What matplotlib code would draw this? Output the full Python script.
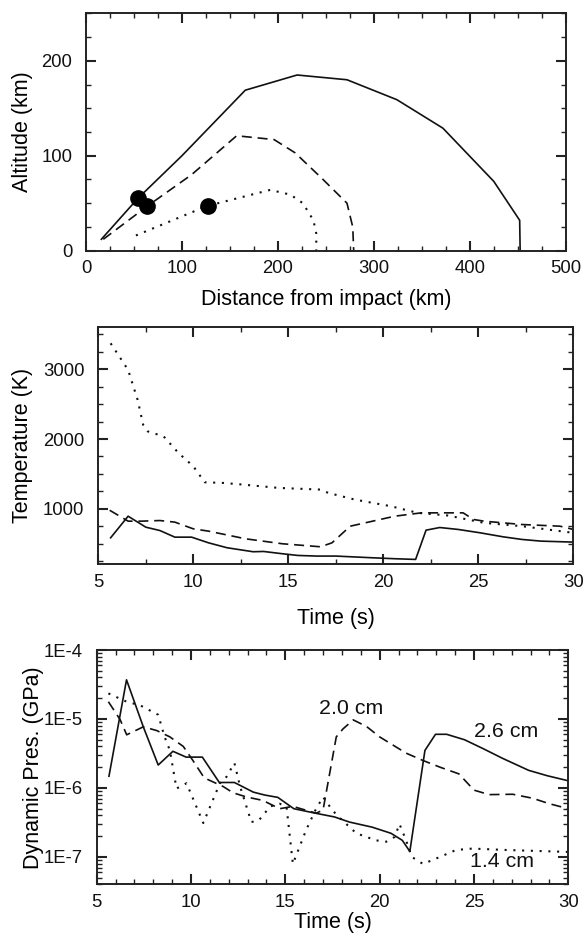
import matplotlib
matplotlib.use("Agg")
import matplotlib.pyplot as plt
from matplotlib.ticker import MultipleLocator, FixedLocator, FixedFormatter, LogLocator, NullFormatter

plt.rcParams['font.family'] = ['Liberation Sans', 'DejaVu Sans']

# ---- Panel 1: trajectories ----
traj_solid_x = [16, 54, 100, 166, 220, 272, 324, 372, 425, 452, 452.5]
traj_solid_y = [12, 55, 100, 169, 185, 180, 159, 129, 73, 32, 0]
traj_dash_x = [18, 64, 110, 157, 196, 218, 247, 272, 278, 279]
traj_dash_y = [12, 47, 80, 121, 117, 103, 75, 50, 25, 0]
traj_dot_x = [52, 126, 192, 213, 226, 237, 240, 240]
traj_dot_y = [16, 47, 64, 59, 50, 32, 18, 0]
marker_x = [54, 64, 127]
marker_y = [55, 47, 47]

# ---- Panel 2: temperature ----
t_solid = [5.65, 6.57, 7.5, 8.24, 9.03, 9.91, 10.8, 11.78, 13.15, 13.7, 14.7, 15.5, 16.5, 17.5, 19.4, 20.6, 21.7, 22.25, 22.97, 23.95, 25.1, 26.3, 27.3, 28.3, 30]
T_solid = [586, 895, 738, 690, 595, 595, 514, 443, 386, 390, 357, 333, 324, 324, 300, 286, 276, 695, 733, 705, 657, 600, 562, 538, 524]
t_dash = [5.6, 6.57, 7.26, 8.24, 9.03, 10.0, 10.8, 12.76, 14.7, 16.7, 17.3, 18.26, 19.44, 20.6, 22.0, 22.8, 24.2, 24.75, 25.3, 27.3, 29.3, 30]
T_dash = [980, 824, 824, 833, 810, 714, 681, 571, 500, 457, 514, 752, 824, 895, 943, 943, 943, 848, 824, 776, 752, 705]
t_dot = [5.65, 6.57, 7.07, 7.36, 7.6, 8.44, 9.22, 10.0, 10.6, 11.6, 12.6, 14.5, 16.7, 17.1, 18.5, 20.4, 21.8, 23.4, 25.3, 27.3, 30]
T_dot = [3371, 2990, 2562, 2205, 2110, 2038, 1800, 1610, 1381, 1371, 1348, 1300, 1276, 1229, 1133, 1038, 943, 905, 800, 752, 657]

# ---- Panel 3: dynamic pressure ----
p_solid_t = [5.65, 6.58, 7.47, 8.26, 9.04, 9.74, 10.6, 11.5, 12.3, 13.3, 13.9, 14.6, 15.45, 16.6, 17.6, 18.4, 19.6, 20.6, 21.2, 21.6, 22.4, 22.96, 23.55, 24.5, 25.5, 26.5, 27.9, 28.9, 30]
p_solid = [1.48e-6, 3.7e-5, 7.7e-6, 2.15e-6, 3.4e-6, 2.8e-6, 2.8e-6, 1.2e-6, 1.2e-6, 8.7e-7, 7.9e-7, 7.3e-7, 5.0e-7, 4.3e-7, 3.8e-7, 3.2e-7, 2.7e-7, 2.2e-7, 1.74e-7, 1.2e-7, 3.5e-6, 6.0e-6, 6.0e-6, 5.0e-6, 3.7e-6, 2.7e-6, 1.8e-6, 1.5e-6, 1.27e-6]
p_dash_t = [5.62, 6.24, 6.59, 7.47, 8.18, 8.88, 9.59, 10.1, 10.7, 11.7, 12.23, 12.94, 13.8, 14.7, 15.4, 16.64, 17.0, 17.7, 18.06, 18.6, 19.3, 20.0, 21.4, 22.3, 23.2, 24.2, 25.0, 25.8, 27.05, 28.1, 29.0, 30]
p_dash = [1.78e-5, 9.8e-6, 5.9e-6, 7.7e-6, 6.8e-6, 5.5e-6, 4.0e-6, 2.5e-6, 1.4e-6, 1.05e-6, 8.5e-7, 7.4e-7, 6.6e-7, 5.0e-7, 5.4e-7, 4.3e-7, 4.8e-7, 5.5e-6, 7.2e-6, 9.7e-6, 7.8e-6, 5.5e-6, 3.2e-6, 2.5e-6, 2.0e-6, 1.6e-6, 9.3e-7, 8.0e-7, 8.1e-7, 7.1e-7, 5.9e-7, 5.0e-7]
p_dot_t = [5.62, 6.59, 7.3, 8.26, 8.6, 8.88, 9.23, 9.76, 10.65, 11.53, 11.88, 12.3, 12.6, 13.2, 13.6, 14.2, 14.7, 15.06, 15.4, 16.1, 16.6, 17.0, 17.35, 17.7, 18.76, 19.8, 20.35, 20.8, 21.05, 21.4, 21.7, 22.3, 23.2, 24.05, 24.9, 26.7, 30]
p_dot = [2.35e-5, 1.78e-5, 1.58e-5, 1.15e-5, 5.5e-6, 3.5e-6, 9.8e-7, 1.17e-6, 3.1e-7, 1.17e-6, 1.45e-6, 2.3e-6, 1.05e-6, 3.2e-7, 3.4e-7, 5.4e-7, 5.9e-7, 5.4e-7, 7.9e-8, 2.45e-7, 4.8e-7, 7.4e-7, 5.4e-7, 4.1e-7, 2.2e-7, 1.74e-7, 1.66e-7, 1.95e-7, 3.0e-7, 1.74e-7, 1.0e-7, 7.9e-8, 1.0e-7, 1.26e-7, 1.32e-7, 1.26e-7, 1.18e-7]

size_labels = ["2.0 cm", "2.6 cm", "1.4 cm"]
size_label_t = [18.5, 26.7, 26.5]
size_label_p = [1.4e-5, 6.6e-6, 8.5e-8]

LW = 1.2
DASH = (0, (6, 3.5))
DOT = (0, (1, 3.2))
TFS = 13.3   # tick labels
LFS = 15.5   # axis labels
AFS = 15.4   # annotations

fig = plt.figure(figsize=(5.84, 9.36), dpi=100)
ax1 = fig.add_axes([0.1473, 0.7322, 0.8214, 0.2536])
ax2 = fig.add_axes([0.1683, 0.3974, 0.8134, 0.2529])
ax3 = fig.add_axes([0.1656, 0.0552, 0.8075, 0.2503])

def style(ax):
    for s in ax.spines.values():
        s.set_linewidth(1.4)
        s.set_color('#222222')
    ax.tick_params(which='both', direction='in', top=True, right=True, colors='#222222', labelcolor='#111111', labelsize=TFS)
    ax.tick_params(which='major', length=7, width=1.5)
    ax.tick_params(which='minor', length=3.8, width=1.0)
    ax.tick_params(axis='x', which='both', pad=7)
    ax.tick_params(axis='y', which='both', pad=10)

# Panel 1
ax1.plot(traj_solid_x, traj_solid_y, color='#111111', lw=LW, ls='-')
ax1.plot(traj_dash_x, traj_dash_y, color='#111111', lw=LW, ls=DASH)
ax1.plot(traj_dot_x, traj_dot_y, color='#111111', lw=1.5, ls=DOT)
ax1.plot(marker_x, marker_y, 'o', color='black', ms=11, zorder=5)
ax1.set_xlim(0, 500)
ax1.set_ylim(0, 250)
ax1.xaxis.set_major_locator(MultipleLocator(100))
ax1.xaxis.set_minor_locator(MultipleLocator(25))
ax1.yaxis.set_major_locator(MultipleLocator(100))
ax1.yaxis.set_minor_locator(MultipleLocator(25))
ax1.set_xlabel('Distance from impact (km)', fontsize=LFS, va='center')
ax1.set_ylabel('Altitude (km)', fontsize=LFS, va='center')
ax1.xaxis.set_label_coords(0.5, -0.2077)
ax1.yaxis.set_label_coords(-0.1334, 0.5)
style(ax1)

# Panel 2
ax2.plot(t_solid, T_solid, color='#111111', lw=LW, ls='-')
ax2.plot(t_dash, T_dash, color='#111111', lw=LW, ls=DASH)
ax2.plot(t_dot, T_dot, color='#111111', lw=1.5, ls=DOT)
ax2.set_xlim(5, 30)
ax2.set_ylim(210, 3600)
ax2.xaxis.set_major_locator(MultipleLocator(5))
ax2.xaxis.set_minor_locator(MultipleLocator(2.5))
ax2.yaxis.set_major_locator(MultipleLocator(1000))
ax2.yaxis.set_minor_locator(MultipleLocator(250))
ax2.set_xlabel('Time (s)', fontsize=LFS, va='center')
ax2.set_ylabel('Temperature (K)', fontsize=LFS, va='center')
ax2.xaxis.set_label_coords(0.5, -0.228)
ax2.yaxis.set_label_coords(-0.1585, 0.5)
style(ax2)

# Panel 3
ax3.plot(p_solid_t, p_solid, color='#111111', lw=LW, ls='-')
ax3.plot(p_dash_t, p_dash, color='#111111', lw=LW, ls=DASH)
ax3.plot(p_dot_t, p_dot, color='#111111', lw=1.5, ls=DOT)
ax3.set_yscale('log')
ax3.set_xlim(5, 30)
ax3.set_ylim(4e-8, 1e-4)
ax3.xaxis.set_major_locator(MultipleLocator(5))
ax3.xaxis.set_minor_locator(MultipleLocator(1))
ax3.yaxis.set_major_locator(FixedLocator([1e-7, 1e-6, 1e-5, 1e-4]))
ax3.yaxis.set_major_formatter(FixedFormatter(['1E-7', '1E-6', '1E-5', '1E-4']))
ax3.yaxis.set_minor_locator(LogLocator(base=10, subs=range(2, 10)))
ax3.yaxis.set_minor_formatter(NullFormatter())
for lab, tx, py in zip(size_labels, size_label_t, size_label_p):
    ax3.text(tx, py, lab, fontsize=AFS, ha='center', va='center', color='#111111')
ax3.set_xlabel('Time (s)', fontsize=LFS, va='center')
ax3.set_ylabel('Dynamic Pres. (GPa)', fontsize=LFS, va='center')
ax3.xaxis.set_label_coords(0.5, -0.165)
ax3.yaxis.set_label_coords(-0.133, 0.5)
style(ax3)

fig.savefig('out.png', dpi=100)
